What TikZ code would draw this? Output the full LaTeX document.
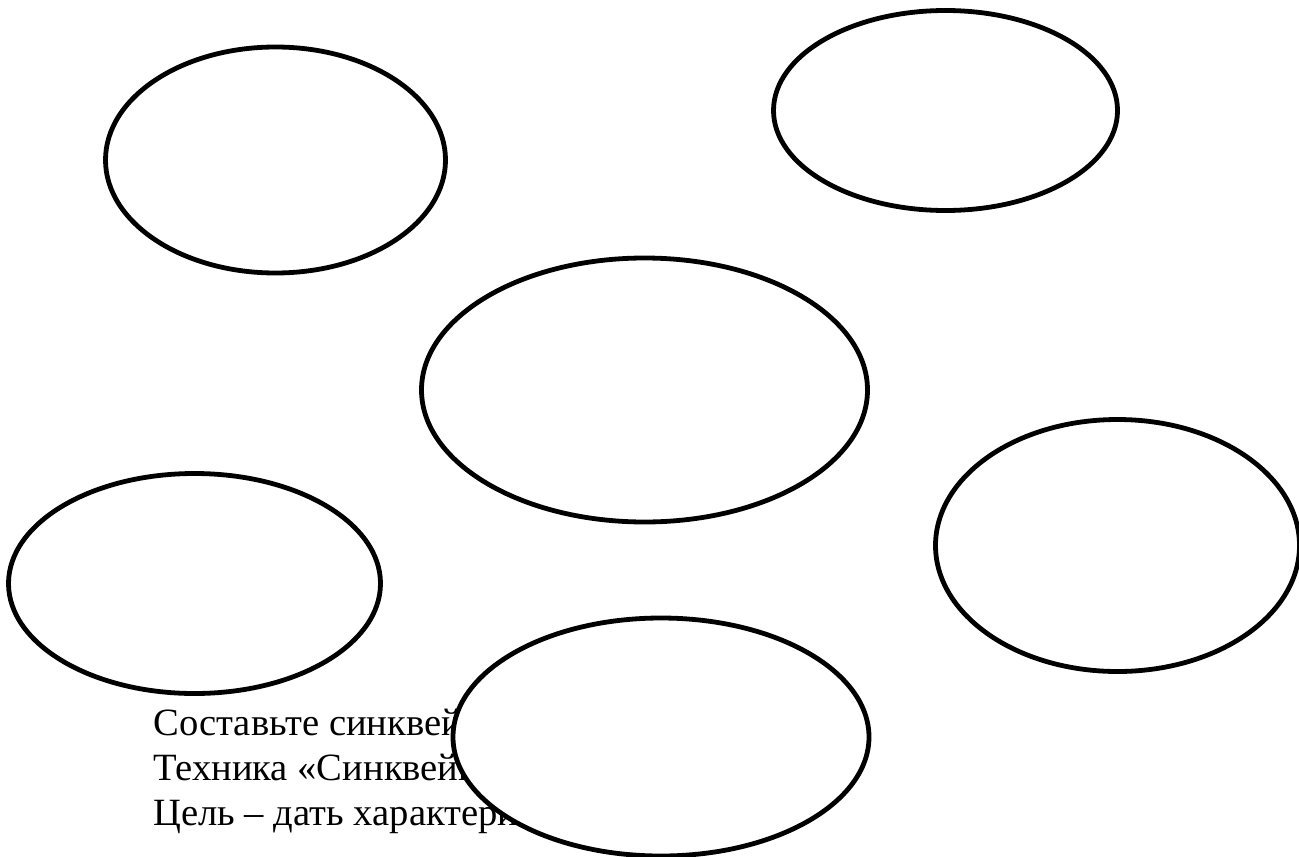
\documentclass[tikz,border=0pt]{standalone}
\usepackage{fontspec}
\setmainfont{Liberation Serif}
\usetikzlibrary{shapes.geometric}
\begin{document}
\begin{tikzpicture}[x=0.5pt,y=-0.5pt,
  oval/.style={ellipse,draw=black,line width=2.4pt,fill=white,inner sep=0pt},
  txt/.style={anchor=base west,inner sep=0pt,font=\fontsize{19.3pt}{22pt}\selectfont}]
\useasboundingbox (0,0) rectangle (1299,856);
\clip (0,0) rectangle (1299,856);
\node[oval,minimum width=170pt,minimum height=113pt] (e1) at (275.5,160) {};
\node[oval,minimum width=172pt,minimum height=100pt] (e2) at (945.5,110.5) {};
\node[oval,minimum width=223pt,minimum height=132pt] (e3) at (644.5,390) {};
\node[oval,minimum width=186pt,minimum height=110pt] (e4) at (194.5,583.5) {};
\node[oval,minimum width=182pt,minimum height=126pt] (e5) at (1117.5,545.5) {};
\node[txt] (t1) at (153,735) {Составьте синквейн};
\node[txt] (t2) at (153,780) {Техника «Синквейн»};
\node[txt] (t3) at (153,825) {Цель – дать характеристику};
\node[oval,minimum width=208pt,minimum height=119pt] (e6) at (661,737) {};
\end{tikzpicture}
\end{document}
